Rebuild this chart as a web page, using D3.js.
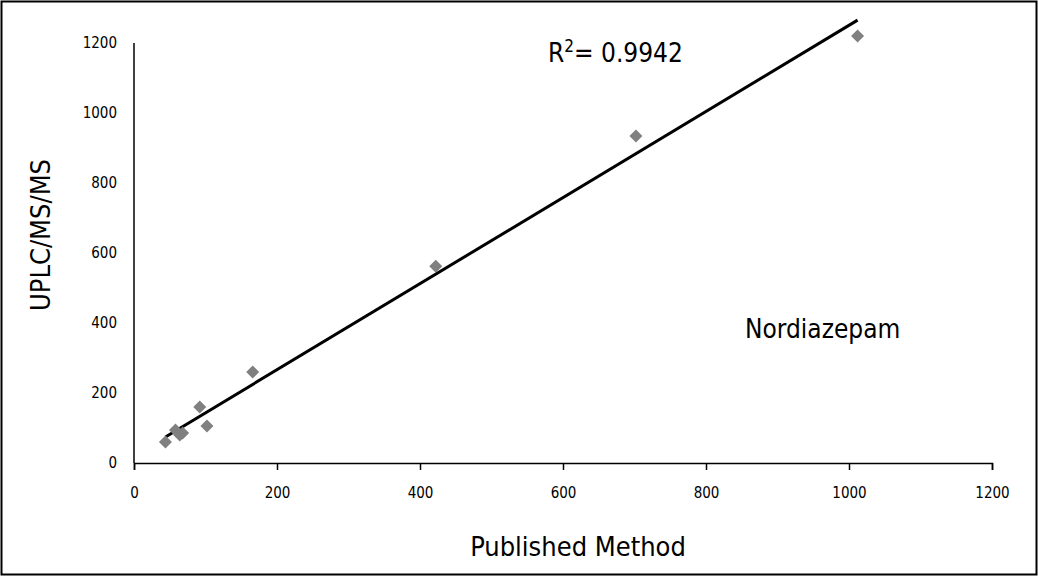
<!DOCTYPE html>
<html><head><meta charset="utf-8">
<script src="https://cdn.jsdelivr.net/npm/d3@7"></script>
<style>body{margin:0;background:#fff}</style>
</head><body>
<svg id="c" width="1038" height="580"></svg>
<script>
var published = [44, 58, 64, 68, 92, 102, 166, 422, 702, 1012];
var uplc = [60, 94, 80, 86, 160, 106, 260, 562, 934, 1220];
var xTicks = [0, 200, 400, 600, 800, 1000, 1200];
var yTicks = [0, 200, 400, 600, 800, 1000, 1200];

var svg = d3.select("#c");
var font = "'Liberation Sans Narrow', 'DejaVu Sans Condensed', sans-serif";
svg.append("rect").attr("x", 1.5).attr("y", 1.5).attr("width", 1035).attr("height", 573)
  .attr("fill", "none").attr("stroke", "#000").attr("stroke-width", 2);

var x = d3.scaleLinear().domain([0, 1200]).range([134, 992]);
var y = d3.scaleLinear().domain([0, 1200]).range([463, 43]);

var xa = svg.append("g").attr("transform", "translate(0,463)")
  .call(d3.axisBottom(x).tickValues(xTicks).tickFormat(d3.format("d")).tickSize(7).tickPadding(17));
var ya = svg.append("g").attr("transform", "translate(134,0)")
  .call(d3.axisLeft(y).tickValues(yTicks).tickFormat(d3.format("d")).tickSize(0).tickPadding(17));
[xa, ya].forEach(function(a) {
  a.selectAll("path,line").attr("stroke", "#000").attr("stroke-width", 1.5);
  a.selectAll("text").attr("font-family", font).attr("font-size", 15).attr("fill", "#000");
});
ya.select(".domain").attr("d", "M0,463V43");

// least squares line
var mx = d3.mean(published), my = d3.mean(uplc);
var b = d3.sum(published, function(v, i) { return (v - mx) * (uplc[i] - my); }) /
        d3.sum(published, function(v) { return (v - mx) * (v - mx); });
var a0 = my - b * mx;
var x1 = d3.min(published), x2 = d3.max(published);
svg.append("line").attr("x1", x(x1)).attr("y1", y(a0 + b * x1))
  .attr("x2", x(x2)).attr("y2", y(a0 + b * x2))
  .attr("stroke", "#000").attr("stroke-width", 3);

svg.selectAll(".pt").data(published).enter().append("path")
  .attr("class", "pt")
  .attr("transform", function(d, i) { return "translate(" + x(d) + "," + y(uplc[i]) + ")"; })
  .attr("d", "M0,-6.5L6.5,0L0,6.5L-6.5,0Z").attr("fill", "#808080");

var r2 = svg.append("text").attr("x", 548).attr("y", 62).attr("font-family", font)
  .attr("font-size", 26).attr("fill", "#000");
r2.append("tspan").text("R");
r2.append("tspan").attr("font-size", 17).attr("dy", -10).text("2");
r2.append("tspan").attr("dy", 10).text("= 0.9942");

svg.append("text").attr("x", 745).attr("y", 338).attr("font-family", font)
  .attr("font-size", 26).text("Nordiazepam");
svg.append("text").attr("x", 578).attr("y", 556).attr("text-anchor", "middle")
  .attr("font-family", font).attr("font-size", 27).text("Published Method");
svg.append("text").attr("transform", "translate(50,235) rotate(-90)").attr("text-anchor", "middle")
  .attr("font-family", font).attr("font-size", 27).text("UPLC/MS/MS");
</script>
</body></html>
